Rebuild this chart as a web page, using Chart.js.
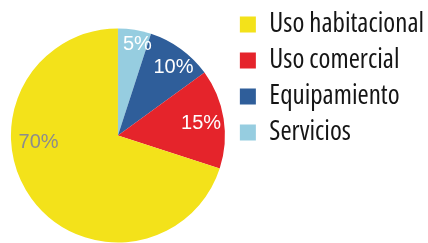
<!DOCTYPE html>
<html><head><meta charset="utf-8">
<script src="https://cdn.jsdelivr.net/npm/chart.js@4"></script>
<style>html,body{margin:0;padding:0;background:#fff;}</style>
</head><body><canvas id="c" width="428" height="243"></canvas>
<script>
const categories = ['Servicios', 'Equipamiento', 'Uso comercial', 'Uso habitacional'];
const values = [5, 10, 15, 70];
const valueLabels = ['5%', '10%', '15%', '70%'];
const colors = ['#96CDE0', '#2F5E9A', '#E5242B', '#F3E21A'];
const labelColors = ['#ffffff', '#ffffff', '#ffffff', '#8C8C8C'];
// label placement within each slice: [radius fraction, angle fraction]
const labelPlace = [[0.87, 0.67], [0.82, 0.59], [0.786, 0.51], [0.744, 0.624]];

const sliceLabels = {
  id: 'sliceLabels',
  afterDatasetsDraw(chart) {
    const ctx = chart.ctx;
    const meta = chart.getDatasetMeta(0);
    ctx.save();
    ctx.font = '20px "Liberation Sans", Arial, sans-serif';
    ctx.textAlign = 'center';
    ctx.textBaseline = 'middle';
    meta.data.forEach((arc, i) => {
      const p = arc.getProps(['x', 'y', 'startAngle', 'endAngle', 'outerRadius'], true);
      const a = p.startAngle + (p.endAngle - p.startAngle) * labelPlace[i][1];
      const r = p.outerRadius * labelPlace[i][0];
      ctx.fillStyle = labelColors[i];
      ctx.fillText(valueLabels[i], p.x + Math.cos(a) * r, p.y + Math.sin(a) * r);
    });
    ctx.restore();
  }
};

// legend sits higher than the pie: shift it up/right after layout
const legendShift = { id: 'legendShift', afterLayout(chart) {
  const lg = chart.legend; const dy = -26, dx = 6;
  lg.top += dy; lg.bottom += dy; lg.left += dx; lg.right += dx;
}};

new Chart(document.getElementById('c'), {
  type: 'pie',
  data: {
    labels: categories,
    datasets: [{ data: values, backgroundColor: colors, borderWidth: 0, radius: 107 }]
  },
  options: {
    responsive: false,
    animation: false,
    layout: { padding: { left: 11, right: 0, top: 28, bottom: 0 } },
    plugins: {
      tooltip: { enabled: false },
      legend: {
        position: 'right',
        align: 'start',
        reverse: true,
        labels: {
          boxWidth: 16, boxHeight: 16, padding: 9,
          color: '#151515',
          font: { family: '"Open Sans", sans-serif', weight: 'condensed', size: 27 }
        }
      }
    }
  },
  plugins: [sliceLabels, legendShift]
});
</script></body></html>
